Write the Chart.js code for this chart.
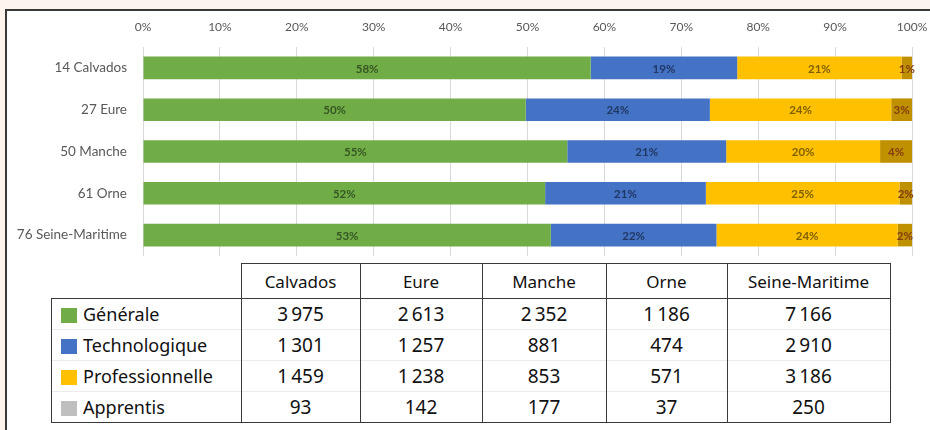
<!DOCTYPE html>
<html>
<head>
<meta charset="utf-8">
<script src="https://cdn.jsdelivr.net/npm/chart.js@4"></script>
<style>
  html, body { margin: 0; padding: 0; }
  body { width: 930px; height: 430px; background: #FDF4EE; position: relative; overflow: hidden; }
  .frame { position: absolute; left: 5px; top: 9px; width: 940px; height: 440px; background: #fff; border-left: 2px solid #3a3a3a; border-top: 2px solid #3a3a3a; }
  .chart-box { position: absolute; left: 7px; top: 11px; width: 923px; height: 250px; }
  table.data { position: absolute; left: 51px; top: 263px; border-collapse: collapse; font-family: "Noto Sans", "Open Sans", sans-serif; color: #111; }
  table.data th { font-weight: normal; font-size: 17px; height: 34px; border: 1.5px solid #3a3a3a; text-align: center; padding: 0; }
  table.data th.blank { border: none; border-right: 1.5px solid #3a3a3a; border-bottom: 1.5px solid #3a3a3a; }
  table.data td { font-size: 19px; height: 30px; padding: 0; text-align: center; white-space: nowrap;
    border-left: 1.5px solid #3a3a3a; border-right: 1.5px solid #3a3a3a; border-top: 1px solid #ececec; }
  table.data tr:last-child td { border-bottom: 1.5px solid #3a3a3a; }
  table.data tr.first td { border-top: 1.5px solid #3a3a3a; }
  table.data td.lab { text-align: left; padding-left: 9px; font-size: 18px; }
  .sw { display: inline-block; width: 16px; height: 15px; margin-right: 6px; vertical-align: -2px; }
</style>
</head>
<body>
<div class="frame"></div>
<div class="chart-box"><canvas id="myChart"></canvas></div>
<table class="data" id="dataTable"></table>
<script>
  const departements = ['14 Calvados', '27 Eure', '50 Manche', '61 Orne', '76 Seine-Maritime'];
  const colonnes = ['Calvados', 'Eure', 'Manche', 'Orne', 'Seine-Maritime'];
  const voies = ['Générale', 'Technologique', 'Professionnelle', 'Apprentis'];

  const generale = [3975, 2613, 2352, 1186, 7166];
  const technologique = [1301, 1257, 881, 474, 2910];
  const professionnelle = [1459, 1238, 853, 571, 3186];
  const apprentis = [93, 142, 177, 37, 250];

  const barColors = ['#70AD47', '#4472C4', '#FFC000', '#BF9000'];
  const swatchColors = ['#70AD47', '#4472C4', '#FFC000', '#BFBFBF'];
  const labelColors = ['#375623', '#203864', '#7F6000', '#843C0C'];

  const series = [generale, technologique, professionnelle, apprentis];
  const totals = departements.map((d, i) => series.reduce((s, arr) => s + arr[i], 0));

  // table under the chart
  const fmt = n => String(n).replace(/\B(?=(\d{3})+(?!\d))/g, '\u2009');
  const colWidths = [189, 118, 121, 123, 120, 162];
  let html = '<tr><th class="blank" style="width:' + colWidths[0] + 'px"></th>';
  colonnes.forEach((c, i) => { html += '<th style="width:' + colWidths[i + 1] + 'px">' + c + '</th>'; });
  html += '</tr>';
  voies.forEach((v, r) => {
    html += '<tr' + (r === 0 ? ' class="first"' : '') + '><td class="lab"><span class="sw" style="background:' + swatchColors[r] + '"></span>' + v + '</td>';
    series[r].forEach(n => { html += '<td>' + fmt(n) + '</td>'; });
    html += '</tr>';
  });
  document.getElementById('dataTable').innerHTML = html;

  const barLabels = {
    id: 'barLabels',
    afterDatasetsDraw(chart) {
      const c = chart.ctx;
      c.save();
      c.font = 'bold 11.5px Lato, "Liberation Sans", sans-serif';
      c.textAlign = 'center';
      c.textBaseline = 'middle';
      chart.data.datasets.forEach((ds, di) => {
        chart.getDatasetMeta(di).data.forEach((bar, i) => {
          c.fillStyle = labelColors[di];
          c.fillText(Math.round(ds.data[i]) + '%', (bar.x + bar.base) / 2, bar.y + 1);
        });
      });
      c.restore();
    }
  };

  const ctx = document.getElementById('myChart').getContext('2d');
  const myChart = new Chart(ctx, {
    type: 'bar',
    data: {
      labels: departements,
      datasets: series.map((arr, k) => ({
        label: voies[k],
        data: arr.map((v, i) => v / totals[i] * 100),
        backgroundColor: barColors[k],
        borderWidth: 0,
        categoryPercentage: 1,
        barPercentage: 0.54
      }))
    },
    options: {
      indexAxis: 'y',
      animation: false,
      maintainAspectRatio: false,
      layout: { padding: { left: 0, right: 18, top: 0, bottom: 5 } },
      plugins: {
        legend: { display: false },
        tooltip: { enabled: false }
      },
      scales: {
        x: {
          position: 'top',
          stacked: true,
          min: 0,
          max: 100,
          afterFit(scale) {
            scale.height = 36;
            scale.paddingLeft = 0;
            scale.paddingRight = 0;
          },
          ticks: {
            stepSize: 10,
            padding: 13,
            color: '#595959',
            font: { family: 'Lato', size: 12 },
            callback: v => v + '%'
          },
          grid: { color: '#D9D9D9', drawTicks: false },
          border: { display: false }
        },
        y: {
          stacked: true,
          afterFit(scale) {
            scale.width = 136;
            scale.paddingTop = 0;
            scale.paddingBottom = 0;
          },
          ticks: {
            padding: 8,
            color: '#595959',
            font: { family: 'Lato', size: 13.5 }
          },
          grid: { display: false },
          border: { display: false }
        }
      }
    },
    plugins: [barLabels]
  });
</script>
</body>
</html>
